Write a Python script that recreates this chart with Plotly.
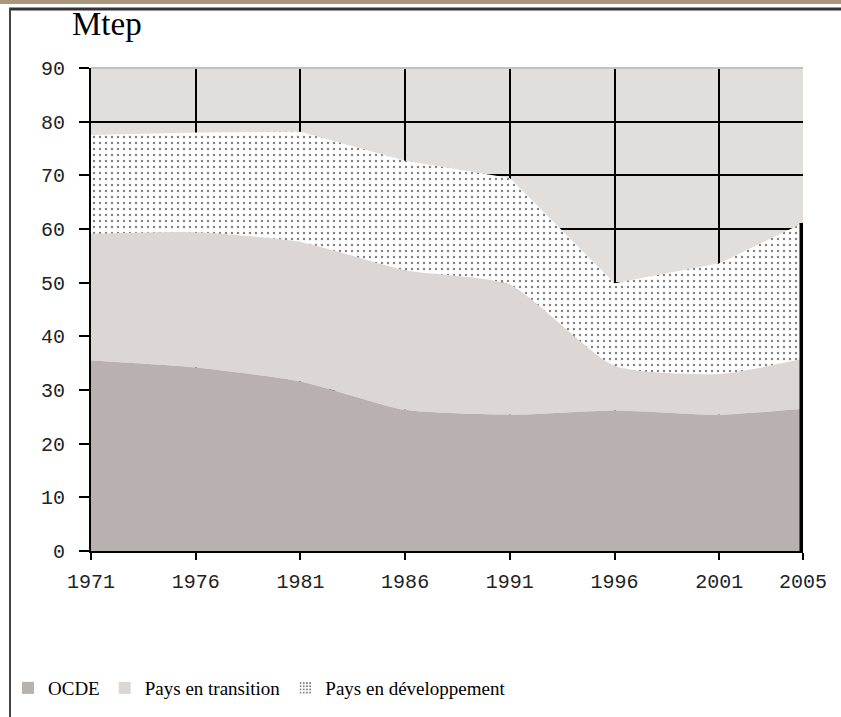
import plotly.graph_objects as go

years = [1971, 1976, 1981, 1986, 1991, 1996, 2001, 2005]
ocde = [35.5, 34.2, 31.6, 26.3, 25.4, 26.2, 25.4, 26.5]
transition = [23.6, 25.2, 26.0, 26.0, 24.2, 8.3, 7.6, 9.3]
developpement = [18.4, 18.6, 20.5, 20.4, 19.9, 15.4, 20.6, 25.3]
series_names = ["OCDE", "Pays en transition", "Pays en développement"]
y_ticks = [0, 10, 20, 30, 40, 50, 60, 70, 80, 90]

W, H = 841, 717
L, R, T, B = 91, 38, 68, 166
PW, PH = W - L - R, H - T - B


def px_x(p):
    return (p - L) / PW


def px_y(p):
    return (H - B - p) / PH


c_ocde = "#b9b1af"
c_trans = "#dcd6d4"
c_bg = "#e2dedc"

fig = go.Figure()

fig.add_trace(go.Scatter(
    x=years, y=ocde, name=series_names[0], stackgroup="one", mode="lines",
    line=dict(width=0, shape="spline", smoothing=0.6), fillcolor=c_ocde,
    showlegend=False))
fig.add_trace(go.Scatter(
    x=years, y=transition, name=series_names[1], stackgroup="one", mode="lines",
    line=dict(width=0, shape="spline", smoothing=0.6), fillcolor=c_trans,
    showlegend=False))
fig.add_trace(go.Scatter(
    x=years, y=developpement, name=series_names[2], stackgroup="one", mode="lines",
    line=dict(width=0, shape="linear"), fillcolor="white",
    fillpattern=dict(shape=".", fgcolor="black", bgcolor="white", size=6, solidity=0.12),
    showlegend=False))

total_last = ocde[-1] + transition[-1] + developpement[-1]
fig.add_trace(go.Scatter(
    x=[years[-1], years[-1]], y=[0, total_last], mode="lines",
    line=dict(color="black", width=7), showlegend=False, hoverinfo="skip"))

# legend entries
fig.add_trace(go.Bar(x=[None], y=[None], name=series_names[0],
                     marker=dict(color=c_ocde, line=dict(width=0))))
fig.add_trace(go.Bar(x=[None], y=[None], name=series_names[1],
                     marker=dict(color=c_trans, line=dict(width=0))))
fig.add_trace(go.Bar(x=[None], y=[None], name=series_names[2],
                     marker=dict(color="white", line=dict(width=0),
                                 pattern=dict(shape=".", fgcolor="black", bgcolor="white",
                                              size=4, solidity=0.3))))

fig.update_layout(
    width=W, height=H,
    margin=dict(l=L, r=R, t=T, b=B, pad=0, autoexpand=False),
    paper_bgcolor="white",
    plot_bgcolor=c_bg,
    showlegend=True,
    legend=dict(
        orientation="h", xref="container", yref="container",
        x=8 / W, xanchor="left", y=(H - 688) / H, yanchor="middle",
        font=dict(family="Liberation Serif", size=19, color="black"),
        bgcolor="rgba(0,0,0,0)", itemwidth=30, tracegroupgap=0,
        traceorder="normal",
    ),
    xaxis=dict(
        range=[years[0], years[-1]], tickmode="array", tickvals=years,
        ticktext=[str(y) for y in years],
        showgrid=True, gridcolor="black", gridwidth=2,
        showline=True, linecolor="black", linewidth=2,
        ticks="outside", ticklen=7, tickwidth=2, tickcolor="black",
        ticklabelstandoff=4, automargin=False,
        tickfont=dict(family="Liberation Mono", size=20, color="#222"),
        zeroline=False,
    ),
    yaxis=dict(
        range=[0, 90], tickmode="array", tickvals=y_ticks,
        showgrid=True, gridcolor="black", gridwidth=2,
        showline=True, linecolor="black", linewidth=2,
        ticks="outside", ticklen=10, tickwidth=2, tickcolor="black",
        ticklabelstandoff=10, automargin=False,
        tickfont=dict(family="Liberation Mono", size=20, color="#222"),
        zeroline=False,
    ),
    font=dict(family="Liberation Serif"),
    annotations=[dict(
        text="Mtep", x=px_x(70), y=px_y(24), xref="paper", yref="paper",
        xanchor="left", yanchor="middle", showarrow=False,
        font=dict(family="Liberation Serif", size=33, color="black"))],
    shapes=[
        dict(type="line", xref="paper", yref="paper", x0=0, x1=1,
             y0=1, y1=1, line=dict(color="#c4c0be", width=2), layer="above"),
        dict(type="rect", xref="paper", yref="paper", x0=px_x(0), x1=px_x(W),
             y0=px_y(0), y1=px_y(4), fillcolor="#a8977a", line=dict(width=0), layer="above"),
        dict(type="line", xref="paper", yref="paper", x0=px_x(9), x1=px_x(W),
             y0=px_y(9), y1=px_y(9), line=dict(color="#333", width=3), layer="above"),
        dict(type="line", xref="paper", yref="paper", x0=px_x(10), x1=px_x(10),
             y0=px_y(8), y1=px_y(H), line=dict(color="#444", width=2), layer="above"),
    ],
)

fig.write_html(
    "out.html",
    config={"displayModeBar": False},
    post_script="document.body.style.margin='0';document.body.style.overflow='hidden';",
)
